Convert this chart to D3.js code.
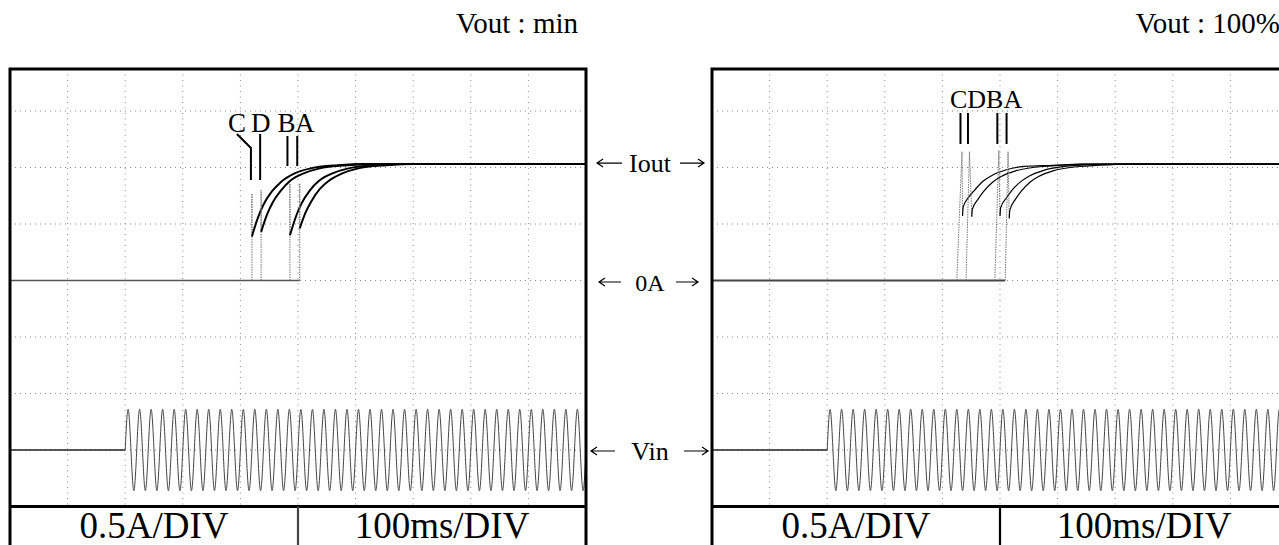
<!DOCTYPE html>
<html>
<head>
<meta charset="utf-8">
<script src="https://cdn.jsdelivr.net/npm/d3@7"></script>
<style>
body{margin:0;background:#fff;}
text{font-family:"Liberation Serif","Times New Roman",serif;fill:#000;}
</style>
</head>
<body>
<svg id="scope"></svg>
<script>
// trace order as labelled on the plots
var traceNames = ["C","D","B","A"];

// Vout : min  -- step edge (ms), spike top (A), recovery curve [ms, A]
var minEdgeMs = [420, 436, 486, 503];
var minSpikeA = [0.77, 0.80, 0.86, 0.86];
var minC = [[420,0.39],[430,0.55],[440,0.67],[455,0.79],[470,0.87],[495,0.95],[520,0.99],[570,1.02],[620,1.03],[1000,1.03]];
var minD = [[436,0.43],[446,0.58],[456,0.69],[471,0.80],[486,0.88],[511,0.95],[536,0.99],[586,1.02],[636,1.03],[1000,1.03]];
var minB = [[486,0.40],[496,0.56],[506,0.68],[521,0.80],[536,0.88],[561,0.95],[586,0.99],[636,1.02],[686,1.03],[1000,1.03]];
var minA = [[503,0.46],[513,0.60],[523,0.70],[538,0.81],[553,0.88],[578,0.95],[603,0.99],[653,1.02],[703,1.03],[1000,1.03]];

// Vout : 100%  -- rise start (ms), spike top (ms, A), recovery curve [ms, A]
var fullEdgeMs = [425, 441, 491, 509];
var fullSpikeMs = [434, 447, 498, 514];
var fullSpikeA = [1.14, 1.14, 1.15, 1.14];
var fullC = [[435,0.57],[436,0.65],[446,0.74],[456,0.80],[471,0.88],[486,0.93],[511,0.98],[541,1.01],[591,1.02],[641,1.03],[1000,1.03]];
var fullD = [[451,0.565],[452,0.63],[462,0.72],[472,0.79],[487,0.87],[502,0.92],[527,0.97],[557,1.0],[607,1.02],[657,1.03],[1000,1.03]];
var fullB = [[500,0.57],[501,0.64],[511,0.73],[521,0.80],[536,0.875],[551,0.925],[576,0.975],[606,1.005],[656,1.025],[706,1.03],[1000,1.03]];
var fullA = [[516,0.55],[517,0.62],[527,0.72],[537,0.79],[552,0.87],[567,0.92],[592,0.97],[622,1.0],[672,1.02],[722,1.03],[1000,1.03]];

// Vin : one cycle read at quarter periods (div), switched on at 200ms
var vinOnMs = 200;
var vinPeriodMs = 20;
var vinCycle = [0, 0.72, 0, -0.72];
var vinLevelDiv = -3;

var iLevelA = 1.03;
var titles = ["Vout : min", "Vout : 100%"];
var scaleLabels = ["0.5A/DIV", "100ms/DIV"];
var sideLabels = ["Iout", "0A", "Vin"];

var width = 1279, height = 545;
var panelW = 576, topY = 69, tableY = 506.5;

var svg = d3.select("svg#scope")
            .attr("width", width)
            .attr("height", height);

var y = d3.scaleLinear().domain([0, 1]).range([280.5, 167.5]);     // amps
var yDiv = d3.scaleLinear().domain([0, 1]).range([280.5, 224]);    // divisions

// Vin samples from the read cycle
var vinPts = [];
for (var i = 0; vinOnMs + i * vinPeriodMs / 4 <= 1000; i++) {
  vinPts.push([vinOnMs + i * vinPeriodMs / 4, vinCycle[i % 4]]);
}

var panels = [
  {left: 10, title: titles[0], curves: [minC, minD, minB, minA],
   edge: minEdgeMs, spikeMs: minEdgeMs, spikeA: minSpikeA, w: 2, baseW: 1.3, baseC: "#555"},
  {left: 712, title: titles[1], curves: [fullC, fullD, fullB, fullA],
   edge: fullEdgeMs, spikeMs: fullSpikeMs, spikeA: fullSpikeA, w: 1.2, baseW: 2, baseC: "#444"}
];

panels.forEach(function(p, pi){
  var x = d3.scaleLinear().domain([0, 1000]).range([p.left, p.left + panelW]);
  var g = svg.append("g");

  g.append("clipPath").attr("id", "clip" + pi)
   .append("rect").attr("x", p.left).attr("y", topY)
   .attr("width", panelW).attr("height", tableY - topY);

  // grid
  g.selectAll("line.vg")
   .data(d3.range(100, 1000, 100))
   .enter().append("line")
   .attr("x1", function(d){ return x(d); })
   .attr("x2", function(d){ return x(d); })
   .attr("y1", topY).attr("y2", tableY)
   .attr("stroke", "#888").attr("stroke-width", 1)
   .attr("stroke-dasharray", "1,4.5");
  g.selectAll("line.hg")
   .data(d3.range(-1.5, 2, 0.5))
   .enter().append("line")
   .attr("x1", p.left).attr("x2", p.left + panelW)
   .attr("y1", function(d){ return y(d); })
   .attr("y2", function(d){ return y(d); })
   .attr("stroke", "#888").attr("stroke-width", 1)
   .attr("stroke-dasharray", "1,4");

  var tr = g.append("g").attr("clip-path", "url(#clip" + pi + ")");
  var line = d3.line()
               .x(function(d){ return x(d[0]); })
               .y(function(d){ return y(d[1]); });

  // 0A baseline up to the last edge
  tr.append("path")
    .attr("d", line([[0, 0], [d3.max(p.edge), 0]]))
    .attr("fill", "none").attr("stroke", p.baseC).attr("stroke-width", p.baseW);

  p.curves.forEach(function(c, i){
    tr.append("path")
      .attr("d", line([[p.edge[i], 0], [p.spikeMs[i], p.spikeA[i]], c[0]]))
      .attr("fill", "none").attr("stroke", "#777")
      .attr("stroke-width", 1).attr("stroke-dasharray", "1.5,1");
    tr.append("path")
      .attr("d", line.curve(d3.curveMonotoneX)(c))
      .attr("fill", "none").attr("stroke", "#000")
      .attr("stroke-width", p.w);
    line.curve(d3.curveLinear);
  });

  // Vin
  var vline = d3.line()
                .x(function(d){ return x(d[0]); })
                .y(function(d){ return yDiv(vinLevelDiv + d[1]); });
  tr.append("path")
    .attr("d", vline([[0, 0], [vinOnMs, 0]]))
    .attr("fill", "none").attr("stroke", "#222").attr("stroke-width", 1.5);
  tr.append("path")
    .attr("d", vline.curve(d3.curveNatural)(vinPts))
    .attr("fill", "none").attr("stroke", "#444").attr("stroke-width", 1);

  // frame and table
  g.append("rect")
   .attr("x", p.left).attr("y", topY)
   .attr("width", panelW).attr("height", height + 5 - topY)
   .attr("fill", "none").attr("stroke", "#000").attr("stroke-width", 3);
  g.append("line")
   .attr("x1", p.left).attr("x2", p.left + panelW)
   .attr("y1", tableY).attr("y2", tableY)
   .attr("stroke", "#000").attr("stroke-width", 3);
  g.append("line")
   .attr("x1", x(500)).attr("x2", x(500))
   .attr("y1", tableY).attr("y2", height)
   .attr("stroke", pi == 0 ? "#444" : "#000").attr("stroke-width", 2.2);
  g.selectAll("text.scale")
   .data(scaleLabels)
   .enter().append("text")
   .text(function(d){ return d; })
   .attr("x", function(d, i){ return (x(i * 500) + x(i * 500 + 500)) / 2; })
   .attr("y", 538)
   .attr("text-anchor", "middle")
   .attr("font-size", 37);

  g.append("text")
   .text(p.title)
   .attr("x", p.left + panelW - 8)
   .attr("y", 33)
   .attr("text-anchor", "end")
   .attr("font-size", 29);

  // trace labels
  if (pi == 0) {
    var dx = [-15, -0.5, -3.5, 5];
    g.selectAll("text.lab")
     .data(traceNames)
     .enter().append("text")
     .text(function(d){ return d; })
     .attr("x", function(d, i){ return x(p.edge[i]) + dx[i]; })
     .attr("y", 131.5)
     .attr("text-anchor", "middle")
     .attr("font-size", 27);
    p.edge.forEach(function(e, i){
      var ex = x(e) - (i < 2 ? 1 : 2.5);
      var d = i == 0 ? "M" + (ex - 14) + ",134L" + ex + ",148L" + ex + ",180"
            : "M" + ex + "," + (i < 2 ? 134 : 136) + "L" + ex + "," + (i < 2 ? 180 : 166);
      g.append("path").attr("d", d).attr("fill", "none")
       .attr("stroke", "#000").attr("stroke-width", 2);
    });
  } else {
    g.append("text")
     .text(traceNames.join(""))
     .attr("x", x(p.spikeMs[0]) - 12)
     .attr("y", 107.5)
     .attr("font-size", 26);
    p.spikeMs.forEach(function(s){
      g.append("line")
       .attr("x1", x(s) - 1.5).attr("x2", x(s) - 1.5)
       .attr("y1", 113).attr("y2", 144)
       .attr("stroke", "#000").attr("stroke-width", 2);
    });
  }
});

// labels between the panels
var mid = (10 + panelW + 712) / 2;
var sideY = [y(iLevelA) - 1, y(0) + 1.5, yDiv(vinLevelDiv) + 1];
var sideSize = [26, 24, 26];
var arrowL = [[-52, -27], [-50, -28], [-58, -34]];
var arrowR = [[31, 55], [27, 49], [35, 59]];

sideLabels.forEach(function(s, i){
  svg.append("text")
     .text(s)
     .attr("x", mid + 1)
     .attr("y", sideY[i] + 9)
     .attr("text-anchor", "middle")
     .attr("font-size", sideSize[i]);
  var yy = sideY[i];
  var a = mid + arrowL[i][0], b = mid + arrowL[i][1];
  var c = mid + arrowR[i][0], e = mid + arrowR[i][1];
  svg.append("path")
     .attr("d", "M" + b + "," + yy + "L" + a + "," + yy +
                "M" + (a + 6) + "," + (yy - 4) + "L" + a + "," + yy + "L" + (a + 6) + "," + (yy + 4) +
                "M" + c + "," + yy + "L" + e + "," + yy +
                "M" + (e - 6) + "," + (yy - 4) + "L" + e + "," + yy + "L" + (e - 6) + "," + (yy + 4))
     .attr("fill", "none").attr("stroke", "#000").attr("stroke-width", 1.2);
});
</script>
</body>
</html>
